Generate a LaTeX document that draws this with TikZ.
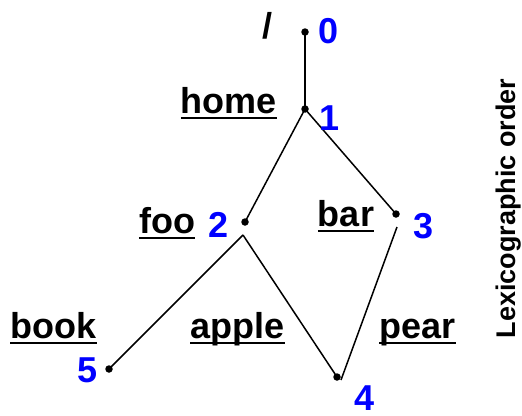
\documentclass[tikz,border=0pt]{standalone}
\usepackage{fontspec}
\setmainfont{Liberation Sans}
\begin{document}
\begin{tikzpicture}[x=1pt,y=-1pt,
  dot/.style={circle,fill=black,inner sep=0pt,minimum size=7.5pt},
  word/.style={inner sep=0pt,anchor=base,font=\fontsize{36}{40}\selectfont\bfseries},
  num/.style={inner sep=0pt,text=blue,font=\fontsize{36}{40}\selectfont\bfseries},
  edge/.style={line width=1.5pt},
  uline/.style={line width=2.5pt}]
\useasboundingbox (0,0) rectangle (522,415);

% dots
\node[dot] (n0) at (305,32) {};
\node[dot] (n1) at (305,109) {};
\node[dot] (n2) at (245,222) {};
\node[dot] (n3) at (396,214) {};
\node[dot] (n4) at (337,377) {};
\node[dot] (n5) at (109,369) {};
\coordinate (n2s) at (243,235);
\coordinate (n3s) at (397,227);
\coordinate (n4e) at (341,380);

% edges
\draw[edge] (n0.center) -- (n1.center);
\draw[edge] (n1.center) -- (n2.center);
\draw[edge] (n1.center) -- (n3.center);
\draw[edge] (n2s) -- (n5.center);
\draw[edge] (n2s) -- (n4.center);
\draw[edge] (n3s) -- (n4e);

% numbers
\node[num] (d0) at (329,31) {0};
\node[num] (d1) at (329.5,118.5) {1};
\node[num] (d2) at (218.5,224.5) {2};
\node[num] (d3) at (424,226) {3};
\node[num] (d4) at (364.5,398) {4};
\node[num] (d5) at (87.5,370) {5};

% words
\node[inner sep=0pt,font=\fontsize{36}{40}\selectfont\bfseries] (slash) at (267,26) {/};
\node[word] (home) at (229,113) {home};
\node[word] (foo) at (167,233) {foo};
\node[word] (bar) at (346,226) {bar};
\node[word] (book) at (53.5,338) {book};
\node[word] (apple) at (237.5,338) {apple};
\node[word] (pear) at (417.5,338) {pear};
\foreach \w in {home,foo,bar,book,apple,pear}
  \draw[uline] ([yshift=-5pt]\w.base west) -- ([yshift=-5pt]\w.base east);

% side title
\node[inner sep=0pt,rotate=90,font=\fontsize{27}{30}\selectfont\bfseries] (title) at (508.5,208.5) {Lexicographic order};
\end{tikzpicture}
\end{document}
